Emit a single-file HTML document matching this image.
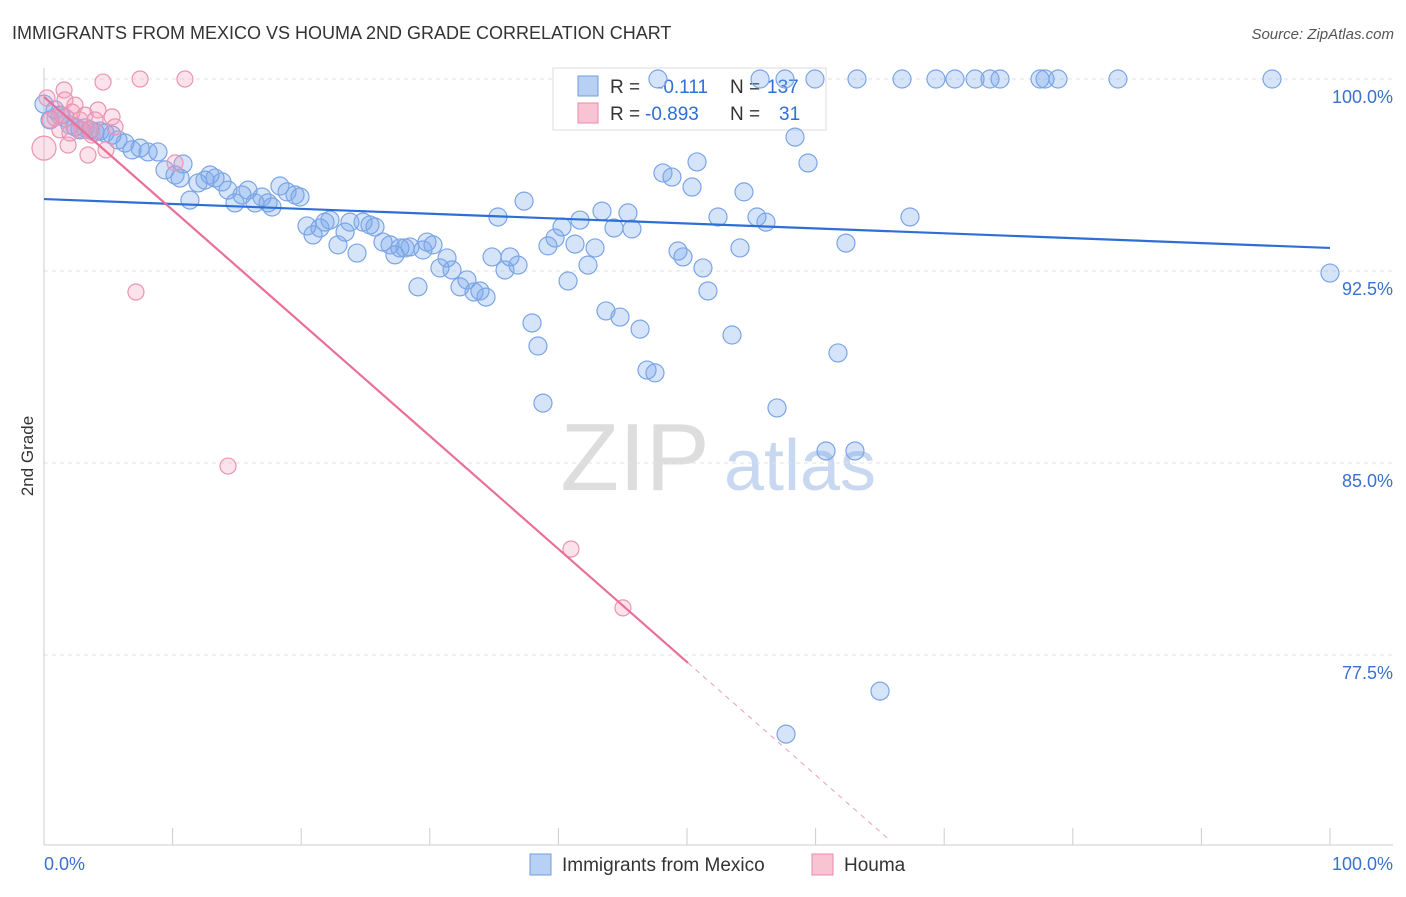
<!DOCTYPE html>
<html><head><meta charset="utf-8"><style>
body{margin:0;background:#fff;font-family:"Liberation Sans",sans-serif;}
svg text{font-family:"Liberation Sans",sans-serif;}
</style></head><body>
<svg id="chart" width="1406" height="892" xmlns="http://www.w3.org/2000/svg">
<text x="12" y="39" font-size="18" fill="#333">IMMIGRANTS FROM MEXICO VS HOUMA 2ND GRADE CORRELATION CHART</text>
<text x="1394" y="39" font-size="15" fill="#555" text-anchor="end" font-style="italic">Source: ZipAtlas.com</text>
<text transform="translate(33,456) rotate(-90)" font-size="17" fill="#333" text-anchor="middle">2nd Grade</text>
<g><text x="635" y="490" font-size="96" fill="#ddd" text-anchor="middle" font-family="Liberation Serif">ZIP</text><text x="800" y="490" font-size="72" fill="#c8d8f0" text-anchor="middle">atlas</text></g>
<g id="grid"></g><g id="axes"></g>
<g>
<rect x="553" y="68" width="273" height="62" fill="#fff" stroke="#ddd"/>
<rect x="578" y="76" width="20" height="20" fill="#b8d0f4" stroke="#6f9ee0"/>
<text x="610" y="93" font-size="19" fill="#333">R =</text><text x="657" y="93" font-size="19" fill="#2e6fd6">-0.111</text>
<text x="730" y="93" font-size="19" fill="#333">N =</text><text x="767" y="93" font-size="19" fill="#2e6fd6">137</text>
<rect x="578" y="103" width="20" height="20" fill="#f8c4d4" stroke="#e88aaa"/>
<text x="610" y="120" font-size="19" fill="#333">R =</text><text x="645" y="120" font-size="19" fill="#2e6fd6">-0.893</text>
<text x="730" y="120" font-size="19" fill="#333">N =</text><text x="779" y="120" font-size="19" fill="#2e6fd6">31</text>
</g>
<g id="marks"></g><g id="lines"></g>
<g>
<rect x="530" y="854" width="21" height="21" fill="#b8d0f4" stroke="#6f9ee0"/>
<text x="562" y="871" font-size="19" fill="#333">Immigrants from Mexico</text>
<rect x="812" y="854" width="21" height="21" fill="#f8c4d4" stroke="#e88aaa"/>
<text x="844" y="871" font-size="19" fill="#333">Houma</text>
</g>
</svg>
<script>
const yTicks=[100,92.5,85,77.5];
const yTickLabels=["100.0%","92.5%","85.0%","77.5%"];
const blueX=[0,0.86,1.24,1.63,0.47,2.02,2.41,2.8,3.19,3.58,3.97,4.35,4.74,5.29,5.75,6.3,6.84,7.47,8.09,8.86,9.41,10.19,10.58,10.81,11.35,11.98,12.52,12.91,13.3,13.84,14.31,14.85,15.4,15.86,16.41,16.95,17.42,17.73,18.35,18.9,19.52,19.91,20.45,20.92,21.46,21.85,22.24,22.86,23.41,23.79,24.34,24.81,25.35,25.74,26.36,26.91,27.29,27.68,28.07,28.46,29.08,29.47,29.78,30.25,30.79,31.34,31.73,32.35,32.89,33.44,33.9,34.37,34.84,35.3,35.85,36.24,36.86,37.33,37.95,38.41,38.8,39.19,39.74,40.28,40.75,41.29,41.68,42.3,42.85,43.39,43.7,44.32,44.79,45.41,45.72,46.35,46.89,47.51,48.13,48.83,49.3,49.69,50.39,50.78,51.24,51.63,52.41,53.5,54.12,54.43,55.44,56.14,57,57.7,58.4,59.41,60.81,61.74,62.36,63.06,65.01,67.34,100,47.74,55.68,57.62,59.95,63.22,66.72,69.36,70.84,72.4,73.56,74.34,77.45,77.84,78.85,83.51,95.49];
const blueY=[99.02,98.79,98.59,98.48,98.4,98.2,98.13,98.01,98.09,98.01,97.93,97.97,97.89,97.81,97.62,97.5,97.23,97.3,97.15,97.15,96.45,96.25,96.13,96.68,95.27,95.94,96.05,96.25,96.13,95.98,95.66,95.16,95.47,95.66,95.16,95.39,95.16,95,95.82,95.59,95.47,95.39,94.26,93.91,94.18,94.41,94.49,93.52,94.02,94.41,93.2,94.41,94.3,94.22,93.63,93.52,93.13,93.4,93.4,93.44,91.88,93.32,93.63,93.52,92.62,93.01,92.54,91.88,92.15,91.68,91.72,91.48,93.05,94.61,92.54,93.05,92.73,95.23,90.47,89.57,87.34,93.48,93.79,94.22,92.11,93.55,94.49,92.73,93.4,94.84,90.94,94.18,90.7,94.77,94.14,90.23,88.63,88.52,96.33,96.17,93.28,93.05,95.78,96.76,92.62,91.72,94.61,90,93.4,95.59,94.61,94.41,87.15,74.41,97.73,96.72,85.47,89.3,93.59,85.47,76.09,94.61,92.42,100,100,100,100,100,100,100,100,100,100,100,100,100,100,100,100];
const pinkX=[0,0.47,0.86,1.24,1.56,1.87,2.02,2.41,2.8,3.19,3.42,3.73,4.2,4.59,4.82,5.29,5.52,7.47,7.15,10.19,10.96,14.31,40.98,45.02,1.63,2.18,2.95,3.58,3.97,1.4,0.23];
const pinkY=[97.3,98.4,98.48,98.01,99.57,97.42,97.89,98.98,98.4,98.59,97.03,97.81,98.79,99.88,97.23,98.52,98.13,100,91.68,96.72,100,84.88,81.64,79.34,99.18,98.71,98.01,98.01,98.4,98.59,99.26];
const blueTrend=[95.31,93.4];
const pinkTrend=[99.3,77.19];
const pinkSolidEnd=50.08, pinkDashEnd=65.8;
const NS='http://www.w3.org/2000/svg';
const X=v=>44+v*12.86, Y=v=>79+(100-v)*25.6;
function mk(p,t,a){const e=document.createElementNS(NS,t);for(const k in a)e.setAttribute(k,a[k]);document.getElementById(p).appendChild(e);return e;}
yTicks.forEach((t,i)=>{
 const g=mk('grid','line',{x1:44,x2:1393,y1:Y(t),y2:Y(t),stroke:'#e2e2e2','stroke-dasharray':'4,4'});
 
 
 const l=mk('axes','text',{x:1393,y:Y(t)+24,'font-size':18,fill:'#3a70d0','text-anchor':'end'});
 l.textContent=yTickLabels[i];
 
 
});
const ax=mk('axes','line',{x1:44,x2:1393,y1:845,y2:845,stroke:'#ccc'});


const ay=mk('axes','line',{x1:44,x2:44,y1:68,y2:845,stroke:'#ccc'});


for(let i=0;i<=10;i++){const t=mk('axes','line',{x1:X(i*10),x2:X(i*10),y1:828,y2:845,stroke:'#ccc'});
 
 }
[["0.0%",44,'start'],["100.0%",1393,'end']].forEach(d=>{const t=mk('axes','text',{x:d[1],y:870,'font-size':18,fill:'#3a70d0','text-anchor':d[2]});t.textContent=d[0];
 
 });
blueX.forEach((v,i)=>{const c=mk('marks','circle',{cx:X(v),cy:Y(blueY[i]),r:9,fill:'rgba(120,165,235,0.3)',stroke:'#7aa5e6','stroke-width':1.2});
 
 });
pinkX.forEach((v,i)=>{const c=mk('marks','circle',{cx:X(v),cy:Y(pinkY[i]),r:i==0?12:8,fill:'rgba(245,160,190,0.3)',stroke:'#eb94b2','stroke-width':1.2});
 
 });
const bl=mk('lines','line',{x1:X(0),y1:Y(blueTrend[0]),x2:X(100),y2:Y(blueTrend[1]),stroke:'#2e6fd6','stroke-width':2.2});


const py=x=>pinkTrend[0]+(pinkTrend[1]-pinkTrend[0])*x/pinkSolidEnd;
const pl=mk('lines','line',{x1:X(0),y1:Y(pinkTrend[0]),x2:X(pinkSolidEnd),y2:Y(pinkTrend[1]),stroke:'#e8709a','stroke-width':2.2});


const pd=mk('lines','line',{x1:X(pinkSolidEnd),y1:Y(pinkTrend[1]),x2:X(pinkDashEnd),y2:Y(py(pinkDashEnd)),stroke:'#e8a0b8','stroke-width':1,'stroke-dasharray':'5,5'});


</script>
</body></html>
